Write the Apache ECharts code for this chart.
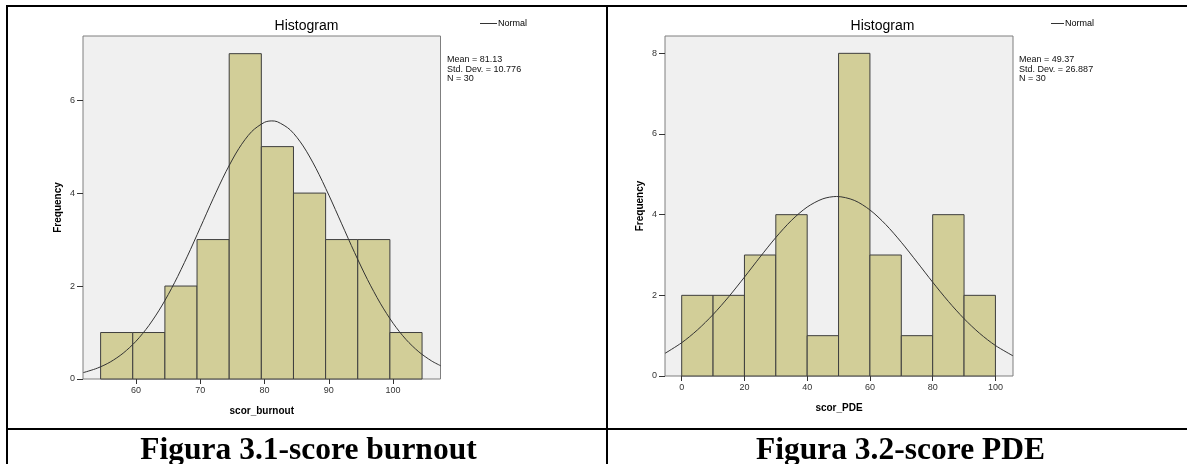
<!DOCTYPE html>
<html>
<head>
<meta charset="utf-8">
<script src="https://cdn.jsdelivr.net/npm/echarts@6/dist/echarts.min.js"></script>
<style>
html,body{margin:0;padding:0;background:#fff;}
#chart{width:1187px;height:464px;}
</style>
</head>
<body>
<div id="chart"></div>
<script>
// ---------- data ----------
const burnoutBinEdges = [54.5, 59.5, 64.5, 69.5, 74.5, 79.5, 84.5, 89.5, 94.5, 99.5, 104.5];
const burnoutCounts   = [1, 1, 2, 3, 7, 5, 4, 3, 3, 1];
const burnoutCurveX = [51.8, 54, 56, 58, 60, 62, 64, 66, 68, 70, 72, 74, 76, 78, 80, 81.13, 82, 84, 86, 88, 90, 92, 94, 96, 98, 100, 102, 104, 106, 107.4];
const burnoutCurveY = [0.137, 0.234, 0.366, 0.555, 0.812, 1.149, 1.570, 2.072, 2.643, 3.257, 3.878, 4.461, 4.958, 5.324, 5.523, 5.553, 5.535, 5.360, 5.014, 4.532, 3.957, 3.339, 2.721, 2.143, 1.631, 1.199, 0.851, 0.584, 0.387, 0.285];
const burnoutXTicks = [60, 70, 80, 90, 100];
const burnoutYTickStep = 2;
const burnoutStats = ['Mean = 81.13', 'Std. Dev. = 10.776', 'N = 30'];

const pdeBinEdges = [0, 10, 20, 30, 40, 50, 60, 70, 80, 90, 100];
const pdeCounts   = [2, 2, 3, 4, 1, 8, 3, 1, 4, 2];
const pdeCurveX = [-5.3, 0, 5, 10, 15, 20, 25, 30, 35, 40, 45, 49.37, 55, 60, 65, 70, 75, 80, 85, 90, 95, 100, 105.6];
const pdeCurveY = [0.563, 0.825, 1.141, 1.524, 1.966, 2.451, 2.952, 3.434, 3.859, 4.189, 4.393, 4.451, 4.355, 4.117, 3.759, 3.316, 2.826, 2.326, 1.850, 1.421, 1.055, 0.756, 0.500];
const pdeXTicks = [0, 20, 40, 60, 80, 100];
const pdeYTickStep = 2;
const pdeStats = ['Mean = 49.37', 'Std. Dev. = 26.887', 'N = 30'];

const chartTitles = ['Histogram', 'Histogram'];
const xNames = ['scor_burnout', 'scor_PDE'];
const yName = 'Frequency';
const curveName = 'Normal';
const captions = ['Figura 3.1-score burnout', 'Figura 3.2-score PDE'];

// ---------- build ----------
function binsData(edges, counts) {
  return counts.map((c, i) => [edges[i], edges[i + 1], c]);
}
function pairs(xs, ys) { return xs.map((x, i) => [x, ys[i]]); }

const SANS = 'Liberation Sans, Arial, sans-serif';
const SERIF = 'Liberation Serif, Times New Roman, serif';

function renderBin(params, api) {
  const p0 = api.coord([api.value(0), api.value(2)]);
  const p1 = api.coord([api.value(1), 0]);
  return {
    type: 'rect',
    shape: { x: p0[0], y: p0[1], width: p1[0] - p0[0], height: p1[1] - p0[1] },
    style: { fill: '#d2ce98', stroke: '#3e3e3e', lineWidth: 1 }
  };
}

function xAxisCfg(idx, min, max, ticks) {
  return {
    type: 'value', gridIndex: idx, min: min, max: max,
    name: xNames[idx], nameLocation: 'middle', nameGap: 27,
    nameTextStyle: { fontFamily: SANS, fontSize: 10, fontWeight: 'bold', color: '#000' },
    axisLine: { show: false, onZero: false },
    axisTick: { show: true, customValues: ticks, length: 5, lineStyle: { color: '#333' } },
    axisLabel: { customValues: ticks, fontFamily: SANS, fontSize: 9, color: '#333', margin: 7 },
    splitLine: { show: false }
  };
}
function yAxisCfg(idx, max, step) {
  return {
    type: 'value', gridIndex: idx, min: 0, max: max, interval: step,
    name: yName, nameLocation: 'middle', nameGap: 20,
    nameTextStyle: { fontFamily: SANS, fontSize: 10, fontWeight: 'bold', color: '#000' },
    axisLine: { show: false, onZero: false },
    axisTick: { show: true, length: 6, lineStyle: { color: '#333' } },
    axisLabel: { showMaxLabel: false, fontFamily: SANS, fontSize: 9, color: '#333', margin: 8 },
    splitLine: { show: false }
  };
}

const option = {
  animation: false,
  backgroundColor: '#fff',
  title: [
    { text: chartTitles[0], left: 306.5, top: 19, padding: 0, textAlign: 'center',
      textStyle: { fontFamily: SANS, fontSize: 14, fontWeight: 'normal', color: '#000' } },
    { text: chartTitles[1], left: 882.5, top: 19, padding: 0, textAlign: 'center',
      textStyle: { fontFamily: SANS, fontSize: 14, fontWeight: 'normal', color: '#000' } },
    { text: captions[0], left: 308.5, top: 435, padding: 0, textAlign: 'center',
      textStyle: { fontFamily: SERIF, fontSize: 31.5, fontWeight: 'bold', color: '#000' } },
    { text: captions[1], left: 900.5, top: 435, padding: 0, textAlign: 'center',
      textStyle: { fontFamily: SERIF, fontSize: 31.5, fontWeight: 'bold', color: '#000' } }
  ],
  legend: [
    { data: [curveName], left: 480, top: 19, padding: 0, icon: 'rect', itemWidth: 17, itemHeight: 1, itemGap: 2,
      textStyle: { fontFamily: SANS, fontSize: 9, color: '#000', padding: [0, 0, 0, -4] }, selectedMode: false },
    { data: [curveName], left: 1051, top: 19, padding: 0, icon: 'rect', itemWidth: 13, itemHeight: 1, itemGap: 2,
      textStyle: { fontFamily: SANS, fontSize: 9, color: '#000', padding: [0, 0, 0, -4] }, selectedMode: false }
  ],
  grid: [
    { left: 83, top: 36, width: 357.5, height: 343, show: true, backgroundColor: '#f0f0f0', borderColor: '#7f7f7f', borderWidth: 1 },
    { left: 665, top: 36, width: 348, height: 340, show: true, backgroundColor: '#f0f0f0', borderColor: '#7f7f7f', borderWidth: 1 }
  ],
  xAxis: [
    xAxisCfg(0, 51.76, 107.37, burnoutXTicks),
    xAxisCfg(1, -5.32, 105.6, pdeXTicks)
  ],
  yAxis: [
    yAxisCfg(0, 7.38, burnoutYTickStep),
    yAxisCfg(1, 8.43, pdeYTickStep)
  ],
  series: [
    { type: 'custom', xAxisIndex: 0, yAxisIndex: 0, renderItem: renderBin,
      encode: { x: [0, 1], y: 2 }, data: binsData(burnoutBinEdges, burnoutCounts) },
    { type: 'custom', xAxisIndex: 1, yAxisIndex: 1, renderItem: renderBin,
      encode: { x: [0, 1], y: 2 }, data: binsData(pdeBinEdges, pdeCounts) },
    { type: 'line', name: curveName, xAxisIndex: 0, yAxisIndex: 0, smooth: 0.3, showSymbol: false,
      color: '#333', lineStyle: { color: '#333', width: 1 }, data: pairs(burnoutCurveX, burnoutCurveY), z: 5 },
    { type: 'line', name: curveName, xAxisIndex: 1, yAxisIndex: 1, smooth: 0.3, showSymbol: false,
      color: '#333', lineStyle: { color: '#333', width: 1 }, data: pairs(pdeCurveX, pdeCurveY), z: 5 }
  ],
  graphic: [
    { type: 'text', left: 447, top: 55, style: { text: burnoutStats.join('\n'), font: '9px ' + SANS, lineHeight: 9.5, fill: '#111' } },
    { type: 'text', left: 1019, top: 55, style: { text: pdeStats.join('\n'), font: '9px ' + SANS, lineHeight: 9.5, fill: '#111' } },
    // table rules
    { type: 'line', shape: { x1: 6, y1: 6, x2: 1187, y2: 6 }, style: { stroke: '#000', lineWidth: 2 } },
    { type: 'line', shape: { x1: 7, y1: 5, x2: 7, y2: 464 }, style: { stroke: '#000', lineWidth: 2 } },
    { type: 'line', shape: { x1: 607, y1: 5, x2: 607, y2: 464 }, style: { stroke: '#000', lineWidth: 2 } },
    { type: 'line', shape: { x1: 6, y1: 429, x2: 1187, y2: 429 }, style: { stroke: '#000', lineWidth: 2 } }
  ]
};

const chart = echarts.init(document.getElementById('chart'), null, { renderer: 'canvas' });
chart.setOption(option);
</script>
</body>
</html>
